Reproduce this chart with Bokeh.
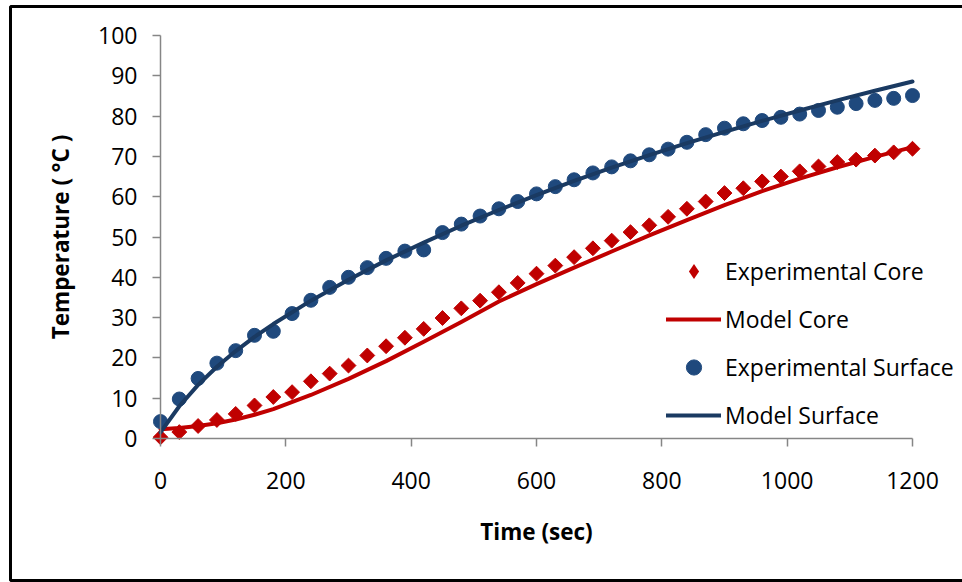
from bokeh.plotting import figure
from bokeh.models import (Legend, LegendItem, ColumnDataSource, BoxAnnotation,
                          FixedTicker, Range1d, Node)
from bokeh.embed import file_html
from bokeh.resources import INLINE
import math

# ---------------- data ----------------
time_exp = [0, 30, 60, 90, 120, 150, 180, 210, 240, 270, 300, 330, 360, 390,
            420, 450, 480, 510, 540, 570, 600, 630, 660, 690, 720, 750, 780,
            810, 840, 870, 900, 930, 960, 990, 1020, 1050, 1080, 1110, 1140,
            1170, 1200]
core_exp = [0.3, 1.6, 3.1, 4.6, 6.1, 8.2, 10.3, 11.5, 14.2, 16.1, 18.1, 20.6,
            22.9, 25.0, 27.2, 29.9, 32.3, 34.2, 36.3, 38.6, 40.9, 42.9, 45.0,
            47.2, 49.1, 51.2, 52.9, 55.0, 57.0, 58.8, 60.9, 62.1, 63.8, 65.0,
            66.3, 67.5, 68.6, 69.2, 70.2, 71.0, 71.9]
surface_exp = [4.2, 9.8, 14.9, 18.7, 21.8, 25.6, 26.6, 31.0, 34.3, 37.5, 40.0,
               42.4, 44.7, 46.5, 46.8, 51.1, 53.2, 55.2, 57.0, 58.8, 60.7,
               62.5, 64.2, 65.9, 67.4, 68.9, 70.4, 71.8, 73.5, 75.4, 77.0,
               78.1, 78.9, 79.7, 80.5, 81.4, 82.2, 83.1, 83.9, 84.4, 85.1]

time_model = [0, 30, 60, 90, 120, 150, 180, 240, 300, 360, 420, 480, 540, 600,
              660, 720, 780, 840, 900, 960, 1020, 1080, 1140, 1200]
core_model = [2.3, 2.6, 3.1, 3.8, 4.7, 5.9, 7.3, 10.8, 14.8, 19.2, 24.0, 28.9,
              34.0, 38.3, 42.4, 46.4, 50.4, 54.2, 57.9, 61.4, 64.5, 67.3,
              69.9, 72.3]
surface_model = [1.5, 8.0, 13.3, 17.8, 21.7, 25.2, 28.4, 34.2, 39.4, 44.2,
                 48.6, 52.8, 56.7, 60.4, 63.9, 67.2, 70.3, 73.3, 76.1, 78.8,
                 81.4, 83.9, 86.3, 88.6]

x_ticks = [0, 200, 400, 600, 800, 1000, 1200]
y_ticks = [0, 10, 20, 30, 40, 50, 60, 70, 80, 90, 100]

x_title = "Time (sec)"
y_title = "Temperature ( °C )"
names = ["Experimental Core", "Model Core", "Experimental Surface", "Model Surface"]

# ---------------- style ----------------
RED = "#C00000"
BLUE_PT = "#1F497D"
BLUE_LN = "#1A3A62"
AXIS = "#868686"
FONT = "Open Sans"

W, H = 962, 582
X0, X1 = 160, 912        # screen x of t=0 and t=1200
Y0, Y1 = 438, 35         # screen y of 0 and 100
xs = (X1 - X0) / 1200.0
ys = (Y0 - Y1) / 100.0

p = figure(width=W, height=H, output_backend="svg", toolbar_location=None,
           x_range=Range1d(-X0 / xs, 1200 + (W - X1) / xs),
           y_range=Range1d(-(H - Y0) / ys, 100 + Y1 / ys),
           min_border=0, min_border_left=0, min_border_right=0,
           min_border_top=0, min_border_bottom=0,
           background_fill_color="white", border_fill_color="white")
p.outline_line_color = None
p.grid.visible = False

src_exp = ColumnDataSource(dict(t=time_exp, core=core_exp, surf=surface_exp))
src_mod = ColumnDataSource(dict(t=time_model, core=core_model, surf=surface_model))

r1 = p.scatter("t", "core", source=src_exp, marker="square", size=10.5,
               angle=math.pi / 4, fill_color=RED, line_color=RED)
r2 = p.line("t", "core", source=src_mod, line_color=RED, line_width=4,
            line_cap="round", line_join="round")
r3 = p.scatter("t", "surf", source=src_exp, marker="circle", size=14,
               fill_color=BLUE_PT, line_color=BLUE_PT)
r4 = p.line("t", "surf", source=src_mod, line_color=BLUE_LN, line_width=4,
            line_cap="round", line_join="round")
# legend proxy: zero-size diamonds (legend markers ignore the rotation angle)
r1_leg = p.scatter("t", "core", source=src_exp, marker="diamond", size=0,
                   fill_color=RED, line_color=None)

for ax in (p.xaxis[0], p.yaxis[0]):
    ax.fixed_location = 0
    ax.axis_line_color = AXIS
    ax.axis_line_width = 1.5
    ax.major_tick_line_color = AXIS
    ax.major_tick_line_width = 1.5
    ax.major_tick_out = 8
    ax.major_tick_in = 0
    ax.minor_tick_line_color = None
    ax.major_label_text_font = FONT
    ax.major_label_text_font_size = "23px"
    ax.major_label_text_color = "black"
    ax.axis_label_text_font = FONT
    ax.axis_label_text_font_size = "22.5px"
    ax.axis_label_text_font_style = "bold"
    ax.axis_label_text_color = "black"

p.xaxis[0].bounds = (0, 1200)
p.yaxis[0].bounds = (0, 100)
p.xaxis[0].ticker = FixedTicker(ticks=x_ticks)
p.yaxis[0].ticker = FixedTicker(ticks=y_ticks)
p.xaxis[0].axis_label = x_title
p.yaxis[0].axis_label = y_title
p.xaxis[0].major_label_standoff = 25
p.yaxis[0].major_label_standoff = 15
p.xaxis[0].axis_label_standoff = 24
p.yaxis[0].axis_label_standoff = 19

legend = Legend(items=[LegendItem(label=names[0], renderers=[r1_leg]),
                       LegendItem(label=names[1], renderers=[r2]),
                       LegendItem(label=names[2], renderers=[r3]),
                       LegendItem(label=names[3], renderers=[r4])],
                location=(666, 148))
legend.label_text_font = FONT
legend.label_text_font_size = "23px"
legend.label_text_color = "black"
legend.glyph_width = 55
legend.glyph_height = 38
legend.label_height = 38
legend.spacing = 10
legend.label_standoff = 4
legend.padding = 0
legend.margin = 0
legend.border_line_color = None
legend.background_fill_alpha = 0
p.add_layout(legend, "center")

frame_box = BoxAnnotation(
    left=Node(target="canvas", symbol="left", offset=10),
    right=Node(target="canvas", symbol="right", offset=10),
    top=Node(target="canvas", symbol="top", offset=6),
    bottom=Node(target="canvas", symbol="bottom", offset=-2),
    fill_color=None, fill_alpha=0, line_color="black", line_alpha=1.0,
    line_width=3, level="overlay")
p.add_layout(frame_box)

open("out.html", "w").write(file_html(p, INLINE))
